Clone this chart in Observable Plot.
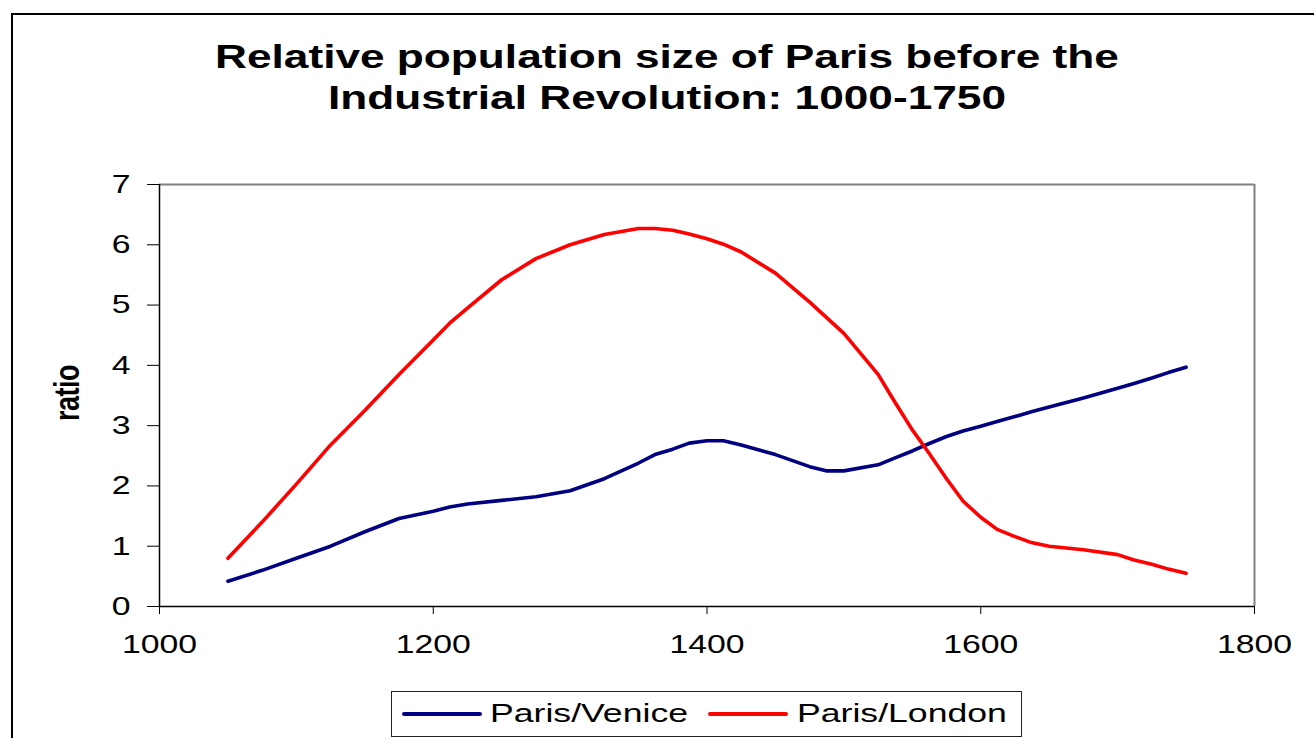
<!DOCTYPE html>
<html>
<head>
<meta charset="utf-8">
<script src="https://cdn.jsdelivr.net/npm/d3@7"></script>
<script src="https://cdn.jsdelivr.net/npm/@observablehq/plot@0.6"></script>
<style>
  html, body { margin: 0; padding: 0; background: #fff; overflow: hidden; }
  #chart { position: relative; width: 1314px; height: 738px; overflow: hidden;
           font-family: "Liberation Sans", Arial, sans-serif; color: #000; background: #fff; }
  #border { position: absolute; left: 11px; top: 13px; width: 1400px; height: 800px;
            border: 2px solid #000; box-sizing: border-box; }
  #title { position: absolute; left: 10px; top: 36px; width: 1314px; text-align: center;
           font-weight: bold; font-size: 34px; line-height: 41px; white-space: nowrap;
           transform: scaleX(1.3); transform-origin: center; }
  #plot { position: absolute; left: 0; top: 0; }
  #ylabel { position: absolute; left: 67.5px; top: 393px; font-weight: bold; font-size: 27px;
            line-height: 1; white-space: nowrap; letter-spacing: -0.5px;
            transform: translate(-50%, -50%) rotate(-90deg) scale(1, 1.3); }
  #legend { position: absolute; left: 391px; top: 691px; width: 631px; height: 46px;
            border: 1px solid #222; box-sizing: border-box; }
  .sw { position: absolute; height: 4px; border-radius: 2px; }
  .lt { position: absolute; font-size: 26px; line-height: 26px; white-space: nowrap;
        transform: scaleX(1.37); transform-origin: left center; }
</style>
</head>
<body>
<div id="chart">
  <div id="border"></div>
  <div id="title"></div>
  <div id="plot"></div>
  <div id="ylabel"></div>
  <div id="legend"></div>
</div>
<script>
// ---- data ----
const titleLines = ["Relative population size of Paris before the", "Industrial Revolution: 1000-1750"];
const yLabel = "ratio";
const seriesNames = ["Paris/Venice", "Paris/London"];
const seriesColors = ["#000080", "#ff0000"];
const xTicks = [1000, 1200, 1400, 1600, 1800];
const yTicks = [0, 1, 2, 3, 4, 5, 6, 7];
const years = [1050, 1075, 1100, 1125, 1150, 1175, 1200, 1212, 1225, 1250, 1275, 1300, 1325, 1350, 1362,
               1375, 1387, 1400, 1412, 1425, 1450, 1475, 1487, 1500, 1525, 1537, 1550, 1562, 1575, 1587,
               1600, 1612, 1625, 1637, 1650, 1675, 1700, 1712, 1725, 1737, 1750];
const parisVenice = [0.42, 0.60, 0.80, 1.00, 1.24, 1.46, 1.58, 1.65, 1.70, 1.76, 1.82, 1.92, 2.12, 2.38, 2.52,
                     2.61, 2.71, 2.75, 2.75, 2.68, 2.52, 2.32, 2.25, 2.25, 2.35, 2.46, 2.58, 2.70, 2.82, 2.91,
                     2.99, 3.07, 3.15, 3.23, 3.31, 3.46, 3.62, 3.70, 3.79, 3.88, 3.97];
const parisLondon = [0.80, 1.40, 2.03, 2.68, 3.25, 3.85, 4.42, 4.70, 4.95, 5.42, 5.77, 6.00, 6.17, 6.27, 6.27,
                     6.24, 6.18, 6.10, 6.01, 5.88, 5.53, 5.05, 4.80, 4.53, 3.85, 3.40, 2.93, 2.55, 2.12, 1.75,
                     1.48, 1.28, 1.16, 1.06, 1.00, 0.94, 0.86, 0.77, 0.70, 0.62, 0.55];

// ---- table for Plot ----
const seriesValues = [parisVenice, parisLondon];
const table = [];
seriesNames.forEach((name, s) => {
  years.forEach((yr, i) => table.push({series: name, year: yr, value: seriesValues[s][i]}));
});

// ---- title ----
document.getElementById("title").innerHTML = titleLines.join("<br>");
document.getElementById("ylabel").textContent = yLabel;

// ---- plot ----
const chart = Plot.plot({
  width: 1314,
  height: 660,
  marginLeft: 159,
  marginRight: 60,
  marginTop: 184,
  marginBottom: 54,
  style: {fontFamily: "'Liberation Sans', Arial, sans-serif", fontSize: "26px", color: "#000", background: "transparent", overflow: "visible"},
  x: {domain: [xTicks[0], xTicks[xTicks.length - 1]], ticks: xTicks, tickFormat: "d", tickSize: 8, tickPadding: 20, label: null},
  y: {domain: [yTicks[0], yTicks[yTicks.length - 1]], ticks: yTicks, tickFormat: "d", tickSize: 12, tickPadding: 17, label: null},
  color: {domain: seriesNames, range: seriesColors},
  marks: [
    Plot.ruleY([yTicks[yTicks.length - 1]], {stroke: "#808080", strokeWidth: 2}),
    Plot.ruleX([xTicks[xTicks.length - 1]], {stroke: "#808080", strokeWidth: 2}),
    Plot.ruleY([yTicks[0]], {stroke: "#000", strokeWidth: 1.5}),
    Plot.ruleX([xTicks[0]], {stroke: "#000", strokeWidth: 1.5}),
    Plot.line(table, {x: "year", y: "value", z: "series", stroke: "series", strokeWidth: 3.6,
                      strokeLinejoin: "round", strokeLinecap: "round"})
  ]
});
document.getElementById("plot").appendChild(chart);

// stretch tick labels horizontally like the original
chart.querySelectorAll("text").forEach(el => {
  const tr = el.getAttribute("transform") || "";
  const x0 = parseFloat(el.getAttribute("x")) || 0;
  el.setAttribute("transform", `${tr} translate(${x0},0) scale(1.3,1) translate(${-x0},0)`);
});

// ---- legend ----
const legend = document.getElementById("legend");
const swLeft = [10, 316];
const txLeft = [98, 405];
seriesNames.forEach((name, i) => {
  const sw = document.createElement("div");
  sw.className = "sw";
  sw.style.left = swLeft[i] + "px";
  sw.style.top = "20px";
  sw.style.width = "80px";
  sw.style.background = seriesColors[i];
  legend.appendChild(sw);
  const t = document.createElement("div");
  t.className = "lt";
  t.style.left = txLeft[i] + "px";
  t.style.top = "8px";
  t.textContent = name;
  legend.appendChild(t);
});
</script>
</body>
</html>
